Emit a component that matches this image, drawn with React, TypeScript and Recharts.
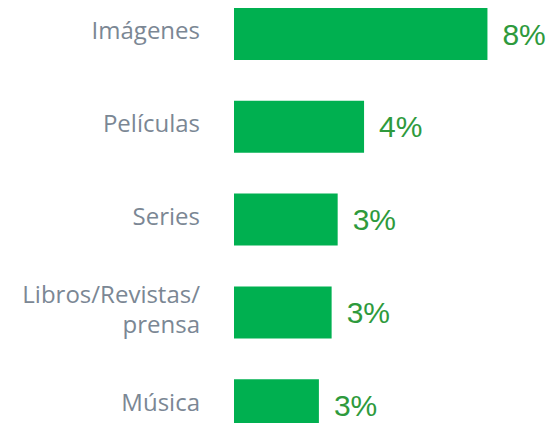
import React from "react";
import { BarChart, Bar, XAxis, YAxis, LabelList } from "recharts";

const categories = ["Imágenes", "Películas", "Series", "Libros/Revistas/\nprensa", "Música"];
const shares = [7.97, 4.09, 3.26, 3.07, 2.67];
const shareLabels = ["8%", "4%", "3%", "3%", "3%"];

const data = categories.map((c, i) => ({ name: c, value: shares[i], label: shareLabels[i] }));

const CategoryTick = (props: any) => {
  const { y, payload } = props;
  const lines = String(payload.value).split("\n");
  const lineH = 30;
  const startDy = -((lines.length - 1) * lineH) / 2 - 3;
  return (
    <text
      x={200}
      y={y}
      textAnchor="end"
      fill="#7b8794"
      fontFamily="'Open Sans', sans-serif"
      fontSize={24}
    >
      {lines.map((l, i) => (
        <tspan key={i} x={200} dy={i === 0 ? startDy + 8 : lineH}>
          {l}
        </tspan>
      ))}
    </text>
  );
};

export default function App() {
  return (
    <div style={{ position: "absolute", left: 0, top: -12 }}>
      <BarChart
        width={552}
        height={464}
        data={data}
        layout="vertical"
        margin={{ top: 0, right: 0, bottom: 0, left: 0 }}
      >
        <XAxis type="number" domain={[0, 10]} hide />
        <YAxis
          type="category"
          dataKey="name"
          width={234}
          axisLine={false}
          tickLine={false}
          tick={<CategoryTick />}
          interval={0}
        />
        <Bar dataKey="value" fill="#00b050" barSize={52} isAnimationActive={false}>
          <LabelList
            dataKey="label"
            position="right"
            offset={15}
            fill="#2e9a3c"
            fontSize={30}
            fontFamily="'Liberation Sans', Arial, sans-serif"
          />
        </Bar>
      </BarChart>
    </div>
  );
}
